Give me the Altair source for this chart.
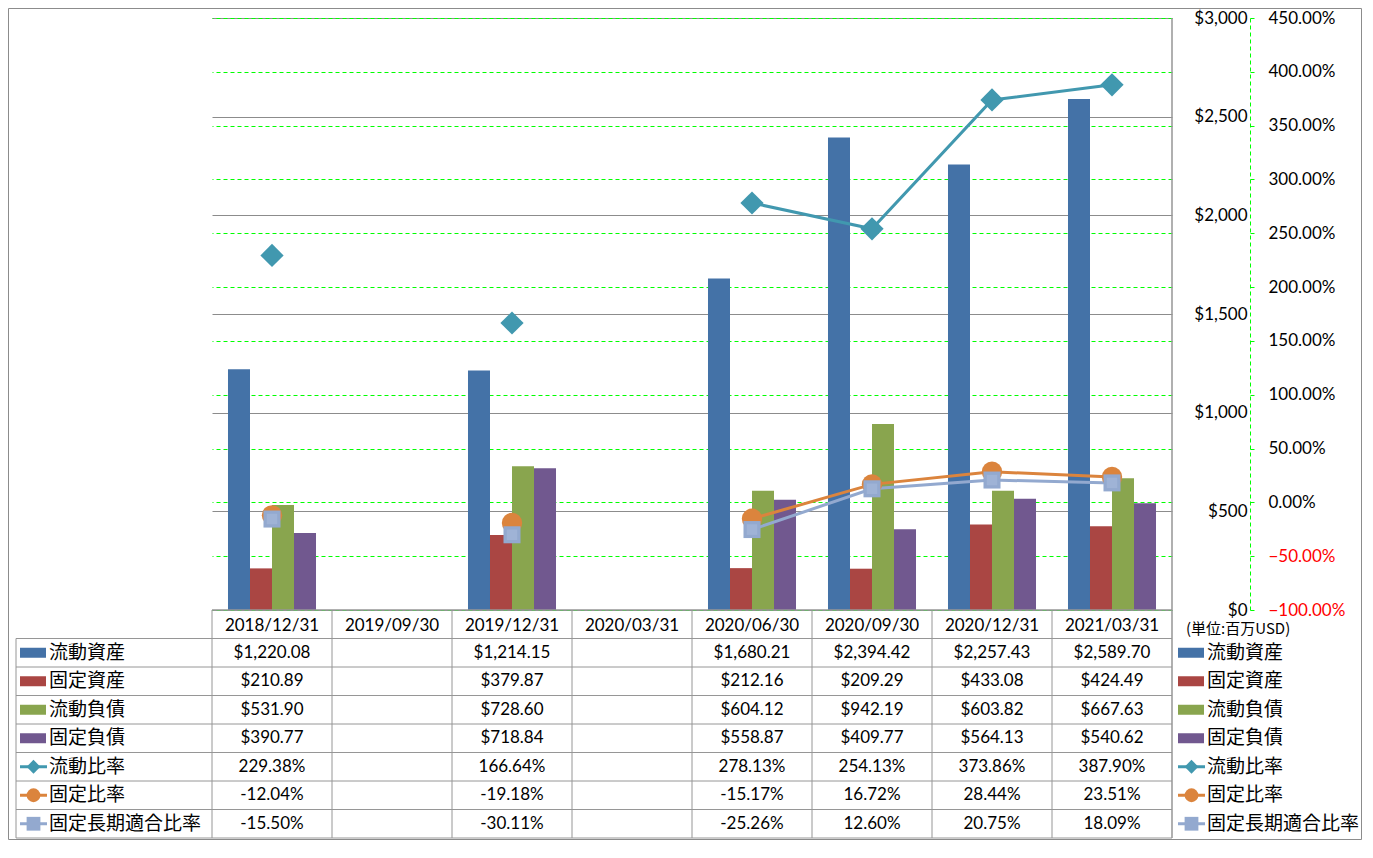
import altair as alt
import pandas as pd

# ---------------- data ----------------
dates = ["2018/12/31", "2019/09/30", "2019/12/31", "2020/03/31",
         "2020/06/30", "2020/09/30", "2020/12/31", "2021/03/31"]

current_assets = [1220.08, None, 1214.15, None, 1680.21, 2394.42, 2257.43, 2589.70]
fixed_assets = [210.89, None, 379.87, None, 212.16, 209.29, 433.08, 424.49]
current_liab = [531.90, None, 728.60, None, 604.12, 942.19, 603.82, 667.63]
fixed_liab = [390.77, None, 718.84, None, 558.87, 409.77, 564.13, 540.62]

current_ratio = [229.38, None, 166.64, None, 278.13, 254.13, 373.86, 387.90]
fixed_ratio = [-12.04, None, -19.18, None, -15.17, 16.72, 28.44, 23.51]
fixed_lt_ratio = [-15.50, None, -30.11, None, -25.26, 12.60, 20.75, 18.09]

bar_names = ["流動資産", "固定資産", "流動負債", "固定負債"]
line_names = ["流動比率", "固定比率", "固定長期適合比率"]
bar_values = [current_assets, fixed_assets, current_liab, fixed_liab]
line_values = [current_ratio, fixed_ratio, fixed_lt_ratio]

usd_ticks = [0, 500, 1000, 1500, 2000, 2500, 3000]
pct_ticks = [-100, -50, 0, 50, 100, 150, 200, 250, 300, 350, 400, 450]
unit_label = "(単位:百万USD)"

# ---------------- style ----------------
bar_colors = ["#4472A7", "#AA4643", "#89A54E", "#71588F"]
line_colors = ["#4198AF", "#DB843D", "#93A9CF"]
line_shapes = ["diamond", "circle", "square"]
line_sizes = [540, 290, 400]
all_names = bar_names + line_names
all_colors = bar_colors + line_colors

NUM_FONT = "Lato, Noto Sans CJK JP"
CJK_FONT = "Noto Sans CJK JP"
GRID_GRAY = "#8C8C8C"
TABLE_GRAY = "#969696"
GREEN = "#00FF00"

W, H = 960, 592
ROW = 28.5
TABLE_BOTTOM = H + 8 * ROW

# ---------------- tables ----------------
bar_rows = []
for name, vals in zip(bar_names, bar_values):
    for d, v in zip(dates, vals):
        if v is not None:
            bar_rows.append({"series": name, "date": d, "value": v})
bar_df = pd.DataFrame(bar_rows)

line_rows = []
for name, vals in zip(line_names, line_values):
    seg = 0
    for d, v in zip(dates, vals):
        if v is None:
            seg += 1
            continue
        line_rows.append({"series": name, "date": d, "value": v, "grp": f"{name}-{seg}"})
line_df = pd.DataFrame(line_rows)

cell_rows = []
for i, (name, vals) in enumerate(zip(bar_names + line_names, bar_values + line_values)):
    for d, v in zip(dates, vals):
        if v is None:
            continue
        label = f"${v:,.2f}" if name in bar_names else f"{v:.2f}%"
        cell_rows.append({"series": name, "date": d, "label": label, "yc": i + 0.5})
cell_df = pd.DataFrame(cell_rows)

header_df = pd.DataFrame({"date": dates, "yc": [-0.45] * len(dates)})
legend_df = pd.DataFrame({"series": all_names, "yc": [i + 0.5 for i in range(len(all_names))],
                          "kind": ["bar"] * 4 + ["line"] * 3})
hline_df = pd.DataFrame({"k": list(range(0, 8))})
vline_df = pd.DataFrame({"date": dates, "y0": [-1] * len(dates), "y1": [7] * len(dates)})
one_df = pd.DataFrame({"a": [0]})

# ---------------- scales ----------------
x_scale = alt.Scale(domain=dates, paddingInner=0, paddingOuter=0)
color_scale = alt.Scale(domain=all_names, range=all_colors)
table_y = alt.Scale(domain=[-1, 7], range=[H, TABLE_BOTTOM], nice=False, zero=False)


def X():
    return alt.X("date:N", sort=dates, scale=x_scale, axis=None)


color_enc = alt.Color("series:N", scale=color_scale, legend=None)

# ---------------- bars ----------------
usd_axis = alt.Axis(orient="right", values=usd_ticks, format="$,.0f", grid=True,
                    gridColor=GRID_GRAY, gridWidth=1, domain=False, ticks=False,
                    labelPadding=75, labelAlign="right", labelFont=NUM_FONT,
                    labelFontSize=17, labelColor="#000000", title=None)
bars = alt.Chart(bar_df).mark_bar().encode(
    x=X(),
    xOffset=alt.XOffset("series:N", sort=bar_names,
                        scale=alt.Scale(domain=bar_names, paddingInner=0, paddingOuter=0.727)),
    y=alt.Y("value:Q", scale=alt.Scale(domain=[0, 3000], nice=False), axis=usd_axis),
    color=color_enc,
)

# ---------------- ratio lines ----------------
pct_axis = alt.Axis(orient="right", offset=78, values=pct_ticks,
                    labelExpr="format(datum.value, '.2f') + '%'",
                    grid=True, gridColor=GREEN, gridDash=[4, 3], gridWidth=1,
                    domain=True, domainColor=GREEN, domainDash=[4, 3],
                    ticks=True, tickColor=GREEN, tickSize=4, labelPadding=14,
                    labelFont=NUM_FONT, labelFontSize=17,
                    labelColor={"condition": {"test": "datum.value < 0", "value": "#FF0000"},
                                "value": "#000000"},
                    title=None)
pct_y = alt.Y("value:Q", scale=alt.Scale(domain=[-100, 450], nice=False, zero=False), axis=pct_axis)

lines = alt.Chart(line_df).mark_line(strokeWidth=3).encode(
    x=X(), y=pct_y, color=color_enc, detail="grp:N",
)
points = alt.Chart(line_df).mark_point(filled=True, opacity=1).encode(
    x=X(), y=pct_y, color=color_enc,
    shape=alt.Shape("series:N", scale=alt.Scale(domain=line_names, range=line_shapes), legend=None),
    size=alt.Size("series:N", scale=alt.Scale(domain=line_names, range=line_sizes), legend=None),
)
inner_sq = alt.Chart(line_df).transform_filter(
    alt.datum.series == line_names[2]).mark_point(
    filled=True, opacity=0.55, shape="square", size=110, color="#A9BCDC").encode(
    x=X(), y=pct_y)
pct_layer = alt.layer(lines, points, inner_sq)

# ---------------- data table ----------------
ty = lambda f: alt.Y(f, scale=table_y, axis=None)

cells = alt.Chart(cell_df).mark_text(font=NUM_FONT, fontSize=17, baseline="middle", color="#000000").encode(
    x=X(), y=ty("yc:Q"), text="label:N")
headers = alt.Chart(header_df).mark_text(font=NUM_FONT, fontSize=17, baseline="middle", color="#000000").encode(
    x=X(), y=ty("yc:Q"), text="date:N")

hlines = alt.Chart(hline_df).mark_rule(color=TABLE_GRAY, strokeWidth=1).encode(
    y=ty("k:Q"), x=alt.value(-196), x2=alt.value(W))
header_top = alt.Chart(one_df).mark_rule(color=TABLE_GRAY, strokeWidth=1.5).encode(
    y=alt.value(H), x=alt.value(0), x2=alt.value(W))
vlines = alt.Chart(vline_df).mark_rule(color=TABLE_GRAY, strokeWidth=1).encode(
    x=alt.X("date:N", sort=dates, scale=x_scale, axis=None, bandPosition=0),
    y=ty("y0:Q"), y2="y1:Q")
left_line = alt.Chart(one_df).mark_rule(color=TABLE_GRAY, strokeWidth=1).encode(
    x=alt.value(-196), y=alt.value(H + ROW), y2=alt.value(TABLE_BOTTOM))
right_line = alt.Chart(one_df).mark_rule(color=TABLE_GRAY, strokeWidth=1.5).encode(
    x=alt.value(W), y=alt.value(0), y2=alt.value(TABLE_BOTTOM))
frame = alt.Chart(one_df).mark_rect(fillOpacity=0, stroke="#8C8C8C", strokeWidth=1).encode(
    x=alt.value(-203.5), x2=alt.value(W + 189.5), y=alt.value(-9.5), y2=alt.value(TABLE_BOTTOM + 1.5))


def legend_block(x0):
    bar_sym = alt.Chart(legend_df).transform_filter("datum.kind == 'bar'").mark_rule(
        strokeWidth=10, strokeCap="butt").encode(
        x=alt.value(x0), x2=alt.value(x0 + 26), y=ty("yc:Q"), color=color_enc)
    line_sym = alt.Chart(legend_df).transform_filter("datum.kind == 'line'").mark_rule(
        strokeWidth=3).encode(
        x=alt.value(x0), x2=alt.value(x0 + 27), y=ty("yc:Q"), color=color_enc)
    line_pt = alt.Chart(legend_df).transform_filter("datum.kind == 'line'").mark_point(
        filled=True, opacity=1, size=190).encode(
        x=alt.value(x0 + 13.5), y=ty("yc:Q"), color=color_enc,
        shape=alt.Shape("series:N", scale=alt.Scale(domain=line_names, range=line_shapes), legend=None))
    txt = alt.Chart(legend_df).mark_text(font=CJK_FONT, fontSize=19, align="left",
                                         baseline="middle", color="#000000").encode(
        x=alt.value(x0 + 29), y=ty("yc:Q"), text="series:N")
    return [bar_sym, line_sym, line_pt, txt]


unit = alt.Chart(pd.DataFrame({"t": [unit_label], "yc": [-0.32]})).mark_text(
    font=CJK_FONT, fontSize=15, align="left", baseline="middle", color="#000000").encode(
    x=alt.value(W + 14), y=ty("yc:Q"), text="t:N")

table_layer = alt.layer(
    frame, hlines, header_top, vlines, left_line, right_line, cells, headers, unit,
    *legend_block(-192), *legend_block(W + 6),
)

chart = alt.layer(bars, pct_layer, table_layer).resolve_scale(
    y="independent"
).properties(
    width=W, height=H,
    autosize=alt.AutoSizeParams(type="none"),
    padding={"left": 204, "top": 10, "right": 190, "bottom": 232},
    background="#FFFFFF",
).configure_view(stroke="transparent")

chart.save("out.html", embed_options={"renderer": "svg", "actions": False})
